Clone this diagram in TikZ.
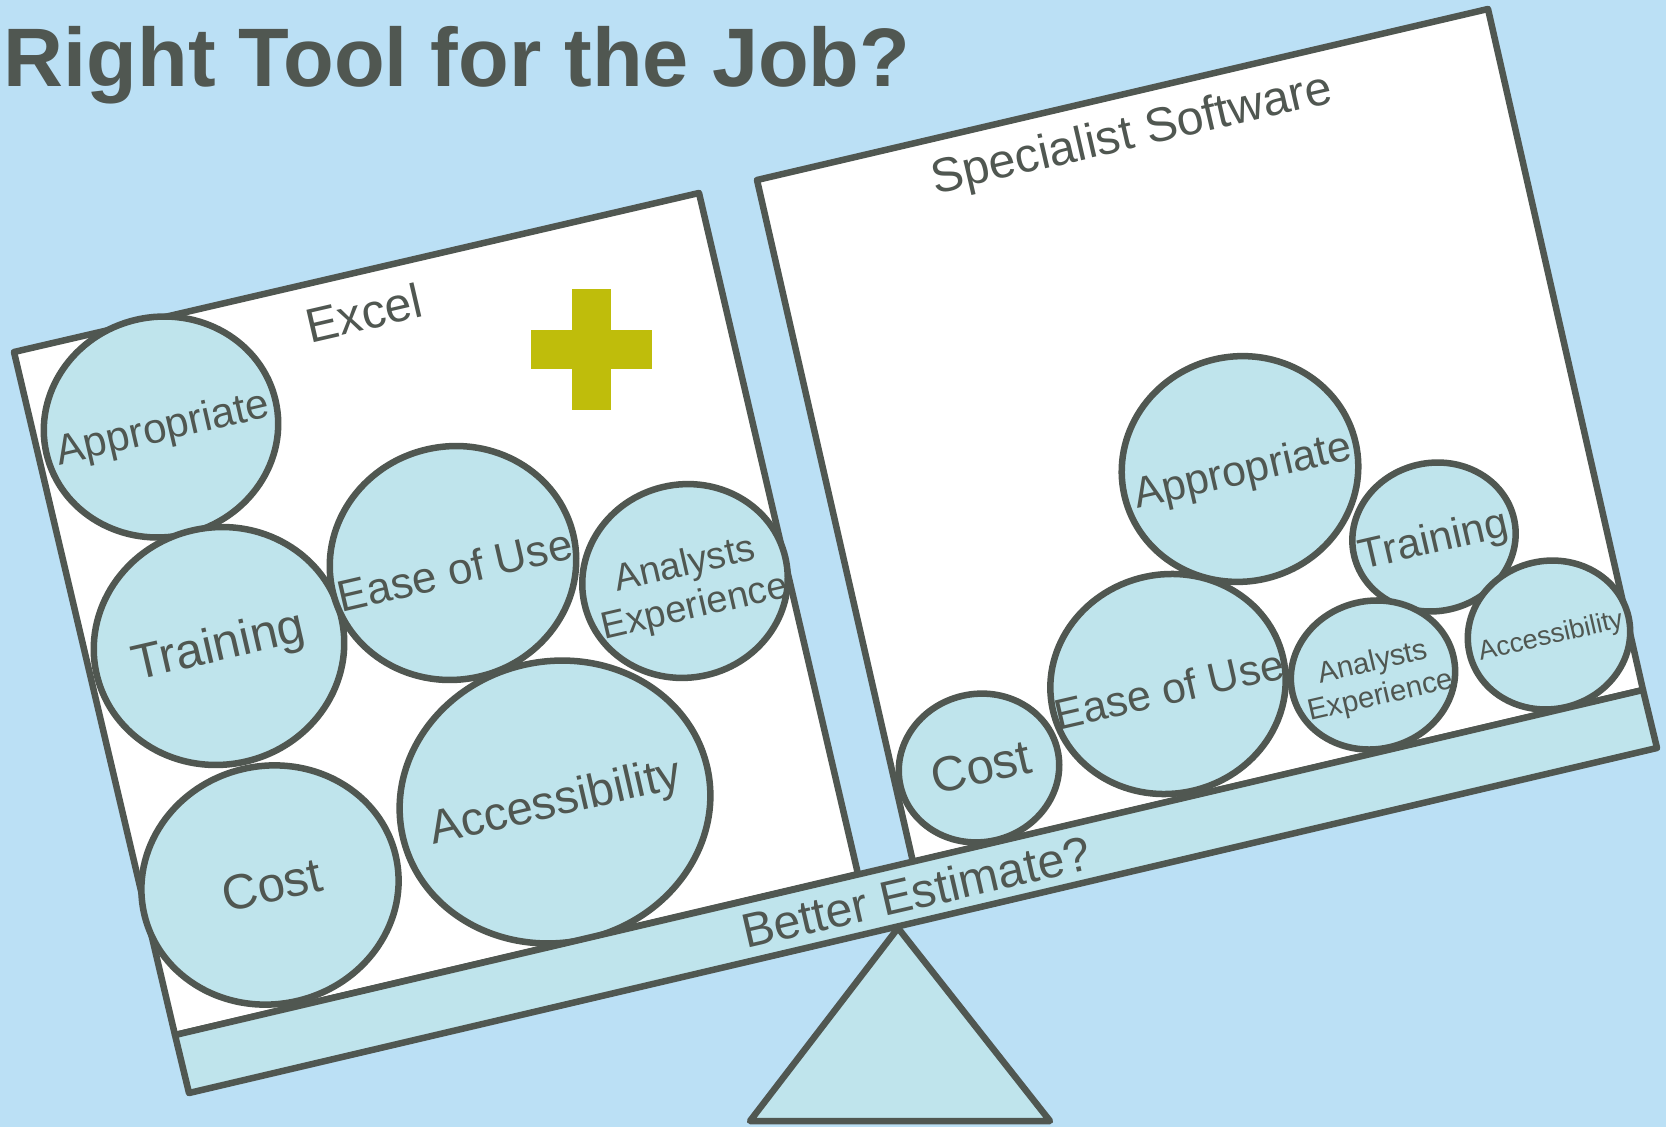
\documentclass[tikz,border=0pt]{standalone}
\usepackage{fontspec}
\setmainfont{Liberation Sans}
\usetikzlibrary{shapes.geometric}

\definecolor{sky}{RGB}{187,224,245}
\definecolor{pale}{RGB}{191,228,236}
\definecolor{ink}{RGB}{80,87,81}
\definecolor{olive}{RGB}{191,189,11}

\tikzset{
  outline/.style={draw=ink, line width=1.85pt, line join=round},
  bubble/.style={outline, ellipse, fill=pale, inner sep=0pt, rotate=13},
  word/.style={text=ink, rotate=13, inner sep=0pt, align=center},
}

\begin{document}
\begin{tikzpicture}[x=0.01cm, y=-0.01cm]
\fill[sky] (0,0) rectangle (1666,1127);
\useasboundingbox (0,0) rectangle (1666,1127);

\node [anchor=base west, inner sep=0pt, text=ink, font=\bfseries\fontsize{23.6}{28}\selectfont] (title) at (3,87) {Right Tool for the Job?};

% the two pans
\draw [outline, fill=white] (14,352) -- (699,193) -- (858,874) -- (175,1035) -- cycle;
\draw [outline, fill=white] (757,180) -- (1488,9) -- (1643,690) -- (913,862) -- cycle;

\node [word, font=\fontsize{13.7}{16}\selectfont] (excel) at (364,313) {Excel};
\node [word, font=\fontsize{13.7}{16}\selectfont] (special) at (1132,136) {Specialist Software};

% plus sign
\fill [olive] (572,289) rectangle (611,410);
\fill [olive] (531,330) rectangle (652,369);

% Excel side
\node [bubble, minimum width=2.35cm, minimum height=2.20cm] (exApp) at (161,427) {};
\node [word, font=\fontsize{12}{14}\selectfont] (exAppT) at (163,430) {Appropriate};

\node [bubble, minimum width=2.51cm, minimum height=2.37cm] (exTrain) at (219,646) {};
\node [word, font=\fontsize{14}{16}\selectfont] (exTrainT) at (219,648) {Training};

\node [bubble, minimum width=2.58cm, minimum height=2.38cm] (exCost) at (270,885) {};
\node [word, font=\fontsize{14}{16}\selectfont] (exCostT) at (272,885) {Cost};

\node [bubble, minimum width=2.47cm, minimum height=2.33cm] (exEase) at (453,563) {};
\node [word, font=\fontsize{12.5}{15}\selectfont] (exEaseT) at (455,570) {Ease of Use};

\node [bubble, minimum width=2.06cm, minimum height=1.93cm] (exAnal) at (685,581) {};
\node [word, font=\fontsize{10.8}{12.4}\selectfont] (exAnalT) at (690,587) {Analysts\\Experience};

\node [bubble, minimum width=3.12cm, minimum height=2.81cm] (exAcc) at (555,802) {};
\node [word, font=\fontsize{13.4}{16}\selectfont] (exAccT) at (556,804) {Accessibility};

% Specialist Software side
\node [bubble, minimum width=2.37cm, minimum height=2.25cm] (swApp) at (1240,469) {};
\node [word, font=\fontsize{12.2}{14}\selectfont] (swAppT) at (1243,473) {Appropriate};

\node [bubble, minimum width=1.64cm, minimum height=1.48cm] (swTrain) at (1434,537) {};
\node [word, font=\fontsize{12}{14}\selectfont] (swTrainT) at (1434,542) {Training};

\node [bubble, minimum width=1.61cm, minimum height=1.48cm] (swCost) at (979,768) {};
\node [word, font=\fontsize{14}{16}\selectfont] (swCostT) at (981,767) {Cost};

\node [bubble, minimum width=2.36cm, minimum height=2.19cm] (swEase) at (1168,684) {};
\node [word, font=\fontsize{12.2}{14}\selectfont] (swEaseT) at (1169,689) {Ease of Use};

\node [bubble, minimum width=1.65cm, minimum height=1.48cm] (swAnal) at (1373,675) {};
\node [word, font=\fontsize{8.4}{9.8}\selectfont] (swAnalT) at (1377,680) {Analysts\\Experience};

\node [bubble, minimum width=1.63cm, minimum height=1.48cm] (swAcc) at (1549,635) {};
\node [word, font=\fontsize{7.7}{9}\selectfont] (swAccT) at (1551,637) {Accessibility};

% pivot and beam
\draw [outline, fill=pale] (898,928) -- (1050,1121) -- (750,1121) -- cycle;
\draw [outline, fill=pale] (175,1035) -- (1643,690) -- (1657,748) -- (189,1093) -- cycle;
\node [word, font=\fontsize{13.7}{16}\selectfont] (better) at (916,892) {Better Estimate?};

\end{tikzpicture}
\end{document}
